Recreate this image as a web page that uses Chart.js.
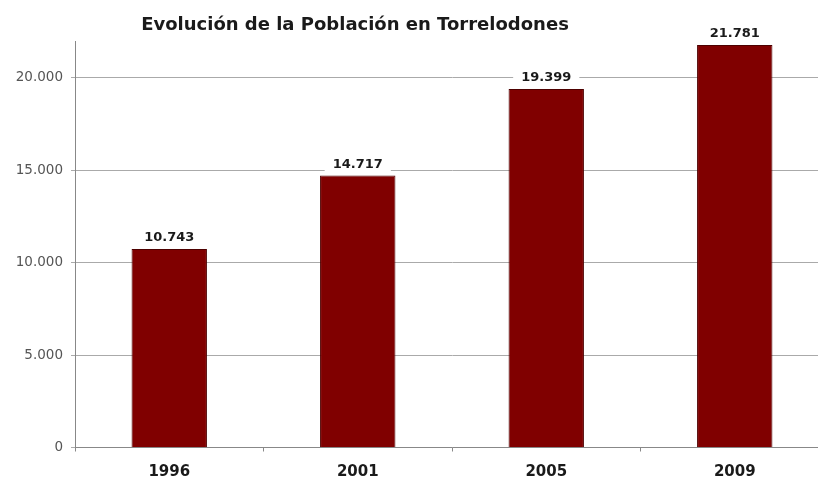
<!DOCTYPE html>
<html>
<head>
<meta charset="utf-8">
<script src="https://cdn.jsdelivr.net/npm/chart.js@4"></script>
<style>
html,body{margin:0;padding:0;background:#fff;overflow:hidden;}
#wrap{width:818px;height:481px;overflow:hidden;}
canvas{display:block;}
</style>
</head>
<body>
<div id="wrap"><canvas id="c" width="832" height="481"></canvas></div>
<script>
const categories = ['1996', '2001', '2005', '2009'];
const poblacion = [10743, 14717, 19399, 21781];
const yTickValues = [0, 5000, 10000, 15000, 20000];
const titleText = 'Evolución de la Población en Torrelodones';

function fmt(v) {
  return String(v).replace(/\B(?=(\d{3})+(?!\d))/g, '.');
}

const titlePlugin = {
  id: 'customTitle',
  afterDraw(chart) {
    const ctx = chart.ctx;
    ctx.save();
    ctx.font = 'bold 18px "DejaVu Sans", Verdana, sans-serif';
    ctx.fillStyle = '#1a1a1a';
    ctx.textAlign = 'center';
    ctx.textBaseline = 'alphabetic';
    ctx.fillText(titleText, 355, 30);
    ctx.restore();
  }
};

const labelPlugin = {
  id: 'valueLabels',
  afterDatasetsDraw(chart) {
    const ctx = chart.ctx;
    const meta = chart.getDatasetMeta(0);
    ctx.save();
    ctx.font = 'bold 13px "DejaVu Sans", Verdana, sans-serif';
    ctx.textAlign = 'center';
    ctx.textBaseline = 'alphabetic';
    meta.data.forEach((bar, i) => {
      const txt = fmt(poblacion[i]);
      const w = ctx.measureText(txt).width;
      const yb = bar.y - 8;
      ctx.fillStyle = '#ffffff';
      ctx.fillRect(bar.x - w / 2 - 8, yb - 13, w + 16, 17);
      ctx.fillStyle = '#1a1a1a';
      ctx.fillText(txt, bar.x, yb);
    });
    ctx.restore();
  }
};

new Chart(document.getElementById('c'), {
  type: 'bar',
  data: {
    labels: categories,
    datasets: [{
      data: poblacion,
      backgroundColor: '#800000',
      borderColor: '#4d0000',
      borderWidth: 1,
      categoryPercentage: 1.0,
      barPercentage: 0.4
    }]
  },
  options: {
    responsive: false,
    animation: false,
    devicePixelRatio: 1,
    layout: { padding: { top: 41, right: 3, left: 0, bottom: 0 } },
    plugins: { legend: { display: false }, title: { display: false }, tooltip: { enabled: false } },
    scales: {
      x: {
        afterFit(scale) { scale.height = 33.5; },
        grid: { display: true, drawOnChartArea: false, drawTicks: true, tickLength: 4, color: '#888', offset: true },
        border: { display: true, color: '#888', width: 1 },
        ticks: { font: { family: '"DejaVu Sans", Verdana, sans-serif', size: 15, weight: 'bold' }, color: '#1a1a1a', padding: 12 }
      },
      y: {
        min: 0,
        max: 22000,
        afterFit(scale) { scale.width = 75; },
        afterBuildTicks(scale) { scale.ticks = yTickValues.map(v => ({ value: v })); },
        grid: { color: '#aaa', drawTicks: true, tickLength: 4 },
        border: { display: true, color: '#888', width: 1 },
        ticks: {
          font: { family: '"DejaVu Sans", Verdana, sans-serif', size: 13.5 },
          color: '#555',
          padding: 8,
          callback: (v) => fmt(v)
        }
      }
    }
  },
  plugins: [titlePlugin, labelPlugin]
});
</script>
</body>
</html>
